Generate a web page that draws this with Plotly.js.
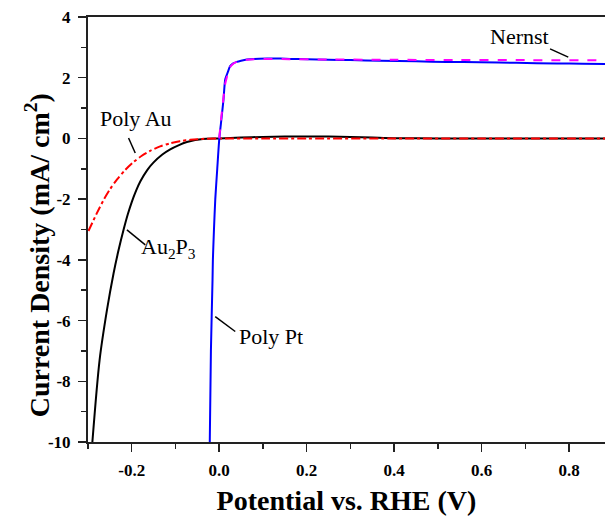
<!DOCTYPE html>
<html>
<head>
<meta charset="utf-8">
<script src="https://cdn.plot.ly/plotly-3.0.1.min.js"></script>
<style>html,body{margin:0;padding:0;background:#fff;}#chart{width:605px;height:516px;}</style>
</head>
<body>
<div id="chart"></div>
<script>
// Poly Pt (blue, solid)
const ptX = [-0.0216, -0.019, -0.0153, -0.0145, -0.012, -0.009, -0.0045, 0.0, 0.004, 0.0098, 0.0137, 0.02, 0.025, 0.032, 0.040, 0.05, 0.063, 0.08, 0.109, 0.14, 0.162, 0.2, 0.25, 0.3, 0.368, 0.45, 0.52, 0.596, 0.68, 0.772, 0.83, 0.89];
const ptY = [-10, -7.0, -4.66, -4.0, -3.0, -2.0, -1.0, -0.04, 0.5, 1.28, 1.94, 2.2, 2.38, 2.47, 2.52, 2.56, 2.60, 2.62, 2.63, 2.63, 2.62, 2.61, 2.59, 2.58, 2.56, 2.54, 2.52, 2.51, 2.49, 2.47, 2.46, 2.45];
// Nernst (magenta, dashed)
const nernstX = [0.0, 0.004, 0.0098, 0.0137, 0.02, 0.025, 0.032, 0.04, 0.05, 0.063, 0.08, 0.109, 0.16, 0.25, 0.4, 0.55, 0.7, 0.89];
const nernstY = [0.0, 0.6, 1.35, 1.8, 2.15, 2.35, 2.46, 2.52, 2.56, 2.59, 2.61, 2.62, 2.61, 2.60, 2.59, 2.58, 2.58, 2.57];
// Au2P3 (black, solid)
const auPX = [-0.290, -0.2735, -0.2566, -0.2415, -0.230, -0.2187, -0.209, -0.1996, -0.19, -0.1805, -0.165, -0.150, -0.130, -0.112, -0.092, -0.074, -0.055, -0.037, 0.0, 0.05, 0.1, 0.15, 0.2, 0.25, 0.3, 0.35, 0.4, 0.5, 0.6, 0.7, 0.8, 0.89];
const auPY = [-10, -7.3, -5.65, -4.44, -3.67, -3.01, -2.50, -2.08, -1.72, -1.42, -1.05, -0.79, -0.53, -0.36, -0.22, -0.12, -0.05, -0.015, 0.0, 0.03, 0.05, 0.065, 0.065, 0.06, 0.05, 0.03, 0.01, 0.0, 0.0, 0.0, 0.0, 0.0];
// Poly Au (red, dash-dot)
const auX = [-0.299, -0.28, -0.264, -0.25, -0.234, -0.215, -0.196, -0.177, -0.158, -0.135, -0.112, -0.09, -0.066, -0.03, 0.0, 0.1, 0.2, 0.4, 0.6, 0.89];
const auY = [-3.05, -2.47, -2.02, -1.68, -1.36, -1.04, -0.78, -0.57, -0.41, -0.26, -0.16, -0.09, -0.045, -0.01, 0.0, 0.0, 0.0, 0.0, 0.0, 0.0];

const xTickVals = [-0.2, 0.0, 0.2, 0.4, 0.6, 0.8];
const xTickText = ['-0.2', '0.0', '0.2', '0.4', '0.6', '0.8'];
const yTickVals = [4, 2, 0, -2, -4, -6, -8, -10];
const yTickText = ['4', '2', '0', '-2', '-4', '-6', '-8', '-10'];

const xTitle = 'Potential vs. RHE (V)';
const yTitle = 'Current Density (mA/ cm<sup>2</sup>)';

// Label texts and anchor positions (data coords)
const labelText = ['Poly Au', 'Au<sub>2</sub>P<sub>3</sub>', 'Poly Pt', 'Nernst'];
const labelX = [-0.1897, -0.1165, 0.1184, 0.6856];
const labelY = [0.65, -3.6, -6.53, 3.36];
// leader lines
const leaderX0 = [-0.2073, -0.211, -0.0091, 0.7564];
const leaderY0 = [0.013, -3.01, -5.87, 2.95];
const leaderX1 = [-0.192, -0.169, 0.0366, 0.798];
const leaderY1 = [-0.481, -3.505, -6.36, 2.68];

const serif = 'Liberation Serif, Times New Roman, serif';

const traces = [
  {x: auPX, y: auPY, mode: 'lines', name: 'Au2P3', line: {color: '#000000', width: 2, shape: 'spline', smoothing: 0.8}},
  {x: auX, y: auY, mode: 'lines', name: 'Poly Au', line: {color: '#ff0000', width: 2, dash: 'dashdot', shape: 'spline', smoothing: 0.8}},
  {x: ptX, y: ptY, mode: 'lines', name: 'Poly Pt', line: {color: '#0000ff', width: 2, shape: 'spline', smoothing: 0.6}},
  {x: nernstX, y: nernstY, mode: 'lines', name: 'Nernst', line: {color: '#ff00ff', width: 2, dash: 'dash', shape: 'spline', smoothing: 0.6}}
];

const annotations = labelText.map((t, i) => ({
  x: labelX[i], y: labelY[i], xref: 'x', yref: 'y', text: t, showarrow: false,
  font: {family: serif, size: 22, color: '#000'}, xanchor: 'center', yanchor: 'middle'
}));
annotations.push({
  x: -0.098, y: 0.44, xref: 'paper', yref: 'paper', text: '<b>' + yTitle + '</b>', showarrow: false,
  textangle: -90, xanchor: 'center', yanchor: 'middle',
  font: {family: serif, size: 28, color: '#000'}
});
const shapes = leaderX0.map((x0, i) => ({
  type: 'line', xref: 'x', yref: 'y', x0: x0, y0: leaderY0[i], x1: leaderX1[i], y1: leaderY1[i],
  line: {color: '#000', width: 1.5}
}));

const layout = {
  width: 605, height: 516,
  margin: {l: 88, r: 0, t: 17, b: 74},
  paper_bgcolor: '#fff', plot_bgcolor: '#fff',
  showlegend: false,
  xaxis: {
    range: [-0.3, 0.882], tickmode: 'array', tickvals: xTickVals, ticktext: xTickText,
    ticks: 'outside', ticklen: 8, tickwidth: 1.5, tickcolor: '#222',
    showline: true, linecolor: '#222', linewidth: 2, mirror: true,
    showgrid: false, zeroline: false,
    tickfont: {family: serif, size: 17, color: '#000', weight: 'bold'},
    ticklabelstandoff: 4,
    minor: {tickmode: 'linear', tick0: 0, dtick: 0.1, ticks: 'outside', ticklen: 5, tickwidth: 1.5, tickcolor: '#222', showgrid: false},
    title: {text: '<b>' + xTitle + '</b>', font: {family: serif, size: 28, color: '#000'}, standoff: 14}
  },
  yaxis: {
    range: [-10, 4], tickmode: 'array', tickvals: yTickVals, ticktext: yTickText,
    ticks: 'outside', ticklen: 8, tickwidth: 1.5, tickcolor: '#222',
    showline: true, linecolor: '#222', linewidth: 2, mirror: false,
    showgrid: false, zeroline: false,
    tickfont: {family: serif, size: 17, color: '#000', weight: 'bold'},
    ticklabelstandoff: 4,
    minor: {tickmode: 'linear', tick0: 0, dtick: 1, ticks: 'outside', ticklen: 5, tickwidth: 1.5, tickcolor: '#222', showgrid: false}
  },
  annotations: annotations,
  shapes: shapes
};

Plotly.newPlot('chart', traces, layout, {displayModeBar: false, staticPlot: true});
</script>
</body>
</html>
